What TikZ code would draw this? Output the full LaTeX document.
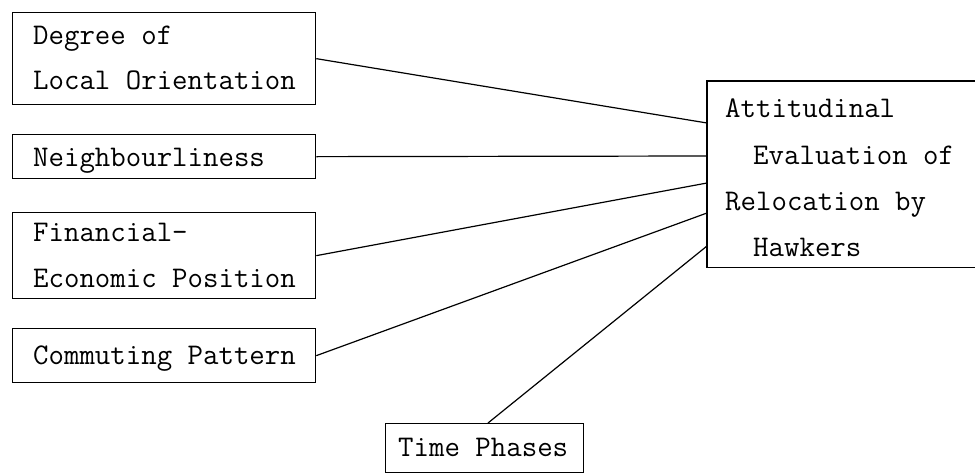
\documentclass[tikz,border=0pt]{standalone}
\begin{document}
\begin{tikzpicture}[x=1pt,y=-1pt,
  box/.style={draw, line width=1.3pt, anchor=north west, inner sep=0pt},
  lbl/.style={anchor=base west, inner sep=0pt, font=\fontsize{30}{36}\selectfont\ttfamily},
  link/.style={line width=1.2pt}]
\useasboundingbox (0,0) rectangle (975,474);
% left boxes
\node (b1) [box, minimum width=303pt, minimum height=92pt] at (12,12) {};
\node (b2) [box, minimum width=303pt, minimum height=44pt] at (12,134) {};
\node (b3) [box, minimum width=303pt, minimum height=86pt] at (12,212) {};
\node (b4) [box, minimum width=303pt, minimum height=54pt] at (12,328) {};
\node (b5) [box, minimum width=198pt, minimum height=49pt] at (385,423) {};
% right box (open to the right edge)
\node (rb) [anchor=north west, inner sep=0pt, minimum width=290pt, minimum height=186pt] at (707,81) {};
\draw[line width=1.3pt] (rb.north east) -- (rb.north west) -- (rb.south west) -- (rb.south east);
% texts
\node (t1a) [lbl] at (33,44) {Degree of};
\node (t1b) [lbl] at (33,89) {Local Orientation};
\node (t2) [lbl] at (33,166) {Neighbourliness};
\node (t3a) [lbl] at (33,241) {Financial-};
\node (t3b) [lbl] at (33,287) {Economic Position};
\node (t4) [lbl] at (33,364) {Commuting Pattern};
\node (t5) [lbl] at (398,456) {Time Phases};
\node (r1) [lbl] at (725,117) {Attitudinal};
\node (r2) [lbl] at (753,164) {Evaluation of};
\node (r3) [lbl] at (725,210) {Relocation by};
\node (r4) [lbl] at (753,256) {Hawkers};
% connection points on the right box
\coordinate (e1) at (707,123);
\coordinate (e2) at (707,156);
\coordinate (e3) at (707,183);
\coordinate (e4) at (707,213);
\coordinate (e5) at (707,246);
\coordinate (s5) at (488,423);
\draw[link] (b1.east) -- (e1);
\draw[link] (b2.east) -- (e2);
\draw[link] (b3.east) -- (e3);
\draw[link] (b4.east) -- (e4);
\draw[link] (s5) -- (e5);
\end{tikzpicture}
\end{document}
